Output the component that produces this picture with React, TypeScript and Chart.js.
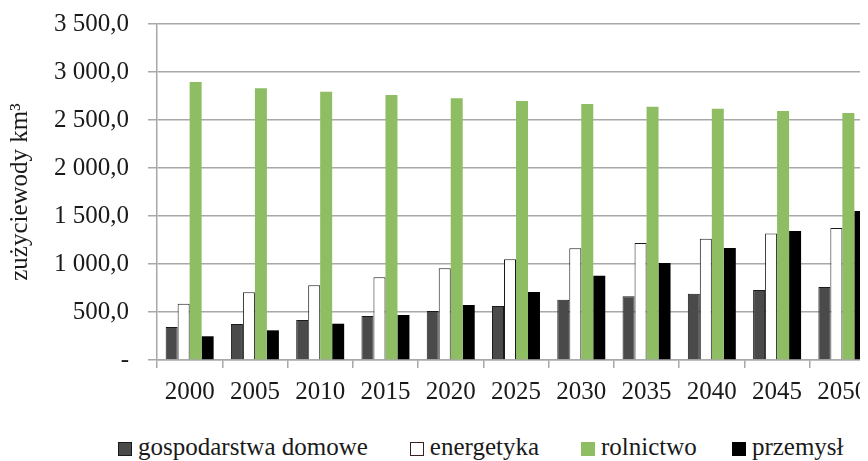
import React, { useEffect, useRef } from "react";
import { Chart, registerables } from "chart.js";

Chart.register(...registerables);

const years = ["2000", "2005", "2010", "2015", "2020", "2025", "2030", "2035", "2040", "2045", "2050"];
const gospodarstwaDomowe = [344, 375, 417, 458, 510, 562, 628, 663, 691, 729, 760];
const energetyka = [586, 705, 778, 861, 955, 1049, 1163, 1219, 1264, 1319, 1375];
const rolnictwo = [2896, 2830, 2795, 2760, 2726, 2698, 2667, 2639, 2618, 2594, 2573];
const przemysl = [247, 309, 378, 469, 573, 708, 878, 1010, 1167, 1344, 1552];

const seriesLabels = ["gospodarstwa domowe", "energetyka", "rolnictwo", "przemysł"];
const yAxisTitle = "zużyciewody km³";

const FONT = "'Liberation Serif', 'Times New Roman', serif";
const FS = 25;
const COLORS = {
  dark: "#4a4a4a",
  white: "#ffffff",
  green: "#8fbd64",
  black: "#000000",
};

function fmt(v: number): string {
  if (v === 0) return "-";
  const th = Math.floor(v / 1000);
  const rest = v % 1000;
  const restStr = th > 0 ? String(rest).padStart(3, "0") : String(rest);
  return (th > 0 ? th + " " : "") + restStr + ",0";
}

export default function App() {
  const ref = useRef<HTMLCanvasElement | null>(null);

  useEffect(() => {
    if (!ref.current) return;
    const chart = new Chart(ref.current, {
      type: "bar",
      data: {
        labels: years,
        datasets: [
          {
            label: seriesLabels[0],
            data: gospodarstwaDomowe,
            backgroundColor: COLORS.dark,
            borderColor: "#1a1a1a",
            borderWidth: 1,
          },
          {
            label: seriesLabels[1],
            data: energetyka,
            backgroundColor: COLORS.white,
            borderColor: "#1a1a1a",
            borderWidth: 1,
          },
          {
            label: seriesLabels[2],
            data: rolnictwo,
            backgroundColor: COLORS.green,
            borderWidth: 0,
          },
          {
            label: seriesLabels[3],
            data: przemysl,
            backgroundColor: COLORS.black,
            borderWidth: 0,
          },
        ],
      },
      options: {
        animation: false,
        responsive: true,
        maintainAspectRatio: false,
        layout: { padding: { top: 2, left: 0, right: 13, bottom: 2 } },
        datasets: {
          bar: { categoryPercentage: 0.735, barPercentage: 1.0 },
        },
        plugins: {
          legend: { display: false },
          tooltip: { enabled: false },
        },
        scales: {
          x: {
            grid: {
              display: true,
              drawOnChartArea: false,
              drawTicks: true,
              tickLength: 8,
              color: "#a8a8a8",
              lineWidth: 1.5,
              offset: true,
            },
            border: { display: true, color: "#a8a8a8", width: 1.5 },
            ticks: {
              color: "#1a1a1a",
              padding: 9,
              font: { family: FONT, size: FS },
              maxRotation: 0,
              autoSkip: false,
            },
          },
          y: {
            min: 0,
            max: 3500,
            grid: {
              color: "#a8a8a8",
              lineWidth: 1.5,
              tickLength: 9,
              drawTicks: true,
            },
            border: { display: true, color: "#a8a8a8", width: 1.5 },
            ticks: {
              stepSize: 500,
              color: "#1a1a1a",
              padding: 19,
              font: { family: FONT, size: FS },
              callback: (v: any) => fmt(Number(v)),
            },
            title: {
              display: true,
              text: yAxisTitle,
              color: "#1a1a1a",
              font: { family: FONT, size: FS },
              padding: { top: 2, bottom: 0 },
            },
          },
        },
      },
    });
    return () => chart.destroy();
  }, []);

  const legendColors = [
    { bg: COLORS.dark, border: "#1a1a1a" },
    { bg: COLORS.white, border: "#3a2020" },
    { bg: COLORS.green, border: COLORS.green },
    { bg: COLORS.black, border: COLORS.black },
  ];

  return (
    <div style={{ width: 860, overflow: "hidden" }}>
      <div style={{ width: 885, height: 428, marginTop: -18, marginLeft: -5, position: "relative" }}>
        <canvas ref={ref} />
      </div>
      <div
        style={{
          display: "flex",
          alignItems: "center",
          height: 30,
          marginTop: 14,
          paddingLeft: 110,
          fontFamily: FONT,
          fontSize: FS,
          color: "#1a1a1a",
          whiteSpace: "nowrap",
        }}
      >
        {seriesLabels.map((l, i) => (
          <div key={l} style={{ display: "flex", alignItems: "center", marginRight: i === 2 ? 35 : 42 }}>
            <span
              style={{
                display: "inline-block",
                width: 12,
                height: 12,
                background: legendColors[i].bg,
                border: "1px solid " + legendColors[i].border,
                marginRight: 6,
                marginTop: 4,
              }}
            />
            <span>{l}</span>
          </div>
        ))}
      </div>
    </div>
  );
}
